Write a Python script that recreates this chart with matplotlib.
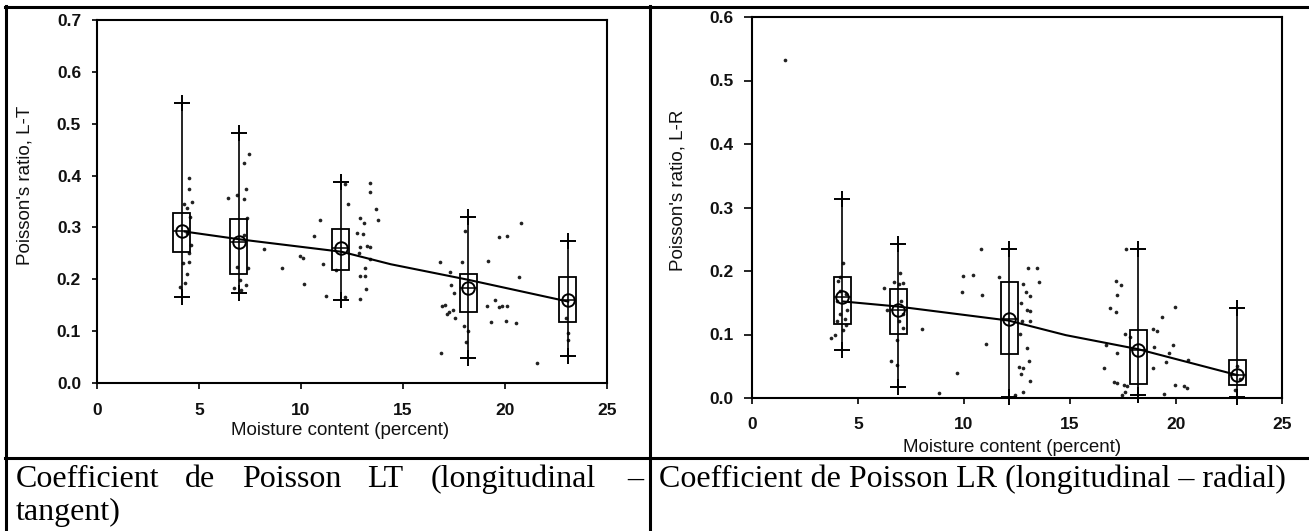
import matplotlib
matplotlib.use("Agg")
import matplotlib.pyplot as plt
from matplotlib.lines import Line2D

# ---------------- data: Poisson's ratio L-T ----------------
lt_x = [4.16, 6.94, 11.94, 18.19, 23.07]
lt_mean = [0.294, 0.271, 0.261, 0.183, 0.160]
lt_q1 = [0.253, 0.210, 0.217, 0.1375, 0.118]
lt_q3 = [0.328, 0.316, 0.297, 0.210, 0.204]
lt_lo = [0.166, 0.173, 0.161, 0.048, 0.053]
lt_hi = [0.539, 0.483, 0.388, 0.3195, 0.274]
lt_fit_x = [4.3, 7.0, 12.0, 14.4, 18.2, 23.1]
lt_fit_y = [0.292, 0.277, 0.253, 0.229, 0.199, 0.157]
lt_pts_x = [4.52, 4.50, 4.68, 4.39, 4.27, 4.57, 4.40, 4.62, 4.49, 4.52, 4.24, 4.40, 4.31, 4.08,
            7.43, 7.23, 6.40, 6.86, 7.29, 7.22, 7.35, 7.19, 7.42, 7.01, 7.30, 6.70, 7.06, 6.86,
            8.20, 9.07, 10.13, 9.94, 10.08, 10.63, 10.95, 11.07, 11.23, 11.70,
            12.31, 13.38, 13.38, 13.66, 13.77, 12.88, 13.11, 12.75, 13.05, 12.91, 13.24, 13.38,
            12.83, 13.38, 13.16, 12.88, 13.16, 13.21, 12.88, 12.17, 12.17,
            18.03, 20.78, 19.71, 20.12, 19.17, 17.91, 16.81, 20.70, 17.30, 17.35, 17.50, 19.50,
            19.10, 19.71, 19.87, 20.12, 16.90, 17.04, 17.25, 17.46, 17.14, 17.56, 17.98, 18.08,
            16.84, 19.32, 20.04, 20.56, 21.59, 18.20,
            23.07, 23.07, 23.00]
lt_pts_y = [0.396, 0.374, 0.350, 0.337, 0.345, 0.321, 0.289, 0.266, 0.250, 0.234, 0.231, 0.211, 0.192, 0.186,
            0.441, 0.425, 0.357, 0.362, 0.374, 0.355, 0.319, 0.285, 0.221, 0.199, 0.189, 0.183, 0.180, 0.224,
            0.258, 0.221, 0.191, 0.245, 0.242, 0.283, 0.314, 0.229, 0.168, 0.218,
            0.345, 0.386, 0.369, 0.336, 0.314, 0.319, 0.308, 0.290, 0.288, 0.263, 0.264, 0.263,
            0.250, 0.240, 0.221, 0.207, 0.207, 0.181, 0.162, 0.165, 0.384,
            0.294, 0.308, 0.282, 0.283, 0.235, 0.233, 0.233, 0.205, 0.214, 0.189, 0.173, 0.161,
            0.148, 0.146, 0.148, 0.148, 0.149, 0.150, 0.137, 0.140, 0.133, 0.125, 0.109, 0.080,
            0.057, 0.118, 0.120, 0.115, 0.038, 0.100,
            0.096, 0.083, 0.125]

# ---------------- data: Poisson's ratio L-R ----------------
lr_x = [4.26, 6.90, 12.14, 18.22, 22.89]
lr_mean = [0.159, 0.139, 0.124, 0.075, 0.036]
lr_q1 = [0.116, 0.101, 0.070, 0.0216, 0.020]
lr_q3 = [0.191, 0.171, 0.183, 0.107, 0.060]
lr_lo = [0.076, 0.018, 0.002, 0.004, 0.002]
lr_hi = [0.313, 0.242, 0.234, 0.235, 0.142]
lr_fit_x = [4.3, 6.9, 12.1, 14.8, 18.2, 22.9]
lr_fit_y = [0.152, 0.144, 0.122, 0.099, 0.077, 0.036]
lr_pts_x = [1.56,
            4.31, 4.07, 4.15, 4.43, 3.99, 4.47, 4.15, 4.39, 3.99, 4.43, 4.31, 3.92, 3.71, 4.15,
            6.98, 6.23, 6.70, 6.95, 7.14, 6.35, 7.03, 7.11, 6.95, 7.11, 6.54, 6.82, 6.82, 8.00,
            8.84, 9.69, 10.79, 9.97, 10.44, 9.89, 10.87, 11.04, 11.64,
            13.03, 13.43, 13.55, 12.77, 12.93, 13.12, 12.68, 12.99, 13.12, 12.72, 13.12, 12.62,
            12.99, 13.05, 12.58, 12.80, 12.70, 13.12, 12.76, 12.42,
            17.64, 17.15, 17.39, 17.20, 16.89, 17.15, 16.70, 17.20, 16.60, 17.60, 17.83, 17.08,
            17.24, 17.53, 17.67, 17.60, 17.43, 18.93, 19.12, 18.95, 18.90, 19.36, 19.95, 19.84,
            19.68, 19.52, 19.95, 20.38, 20.50, 19.43, 20.58,
            22.90, 23.00, 22.80]
lr_pts_y = [0.532,
            0.213, 0.185, 0.169, 0.164, 0.153, 0.138, 0.133, 0.125, 0.122, 0.115, 0.107, 0.099, 0.094, 0.190,
            0.197, 0.174, 0.182, 0.180, 0.181, 0.138, 0.153, 0.133, 0.122, 0.111, 0.059, 0.052, 0.091, 0.108,
            0.0085, 0.039, 0.234, 0.192, 0.194, 0.167, 0.162, 0.085, 0.190,
            0.204, 0.204, 0.183, 0.180, 0.167, 0.160, 0.149, 0.138, 0.137, 0.122, 0.121, 0.101,
            0.079, 0.058, 0.049, 0.048, 0.038, 0.027, 0.009, 0.004,
            0.235, 0.184, 0.178, 0.162, 0.141, 0.136, 0.083, 0.071, 0.048, 0.101, 0.096, 0.025,
            0.024, 0.020, 0.019, 0.010, 0.004, 0.109, 0.105, 0.081, 0.048, 0.128, 0.144, 0.083,
            0.071, 0.057, 0.020, 0.019, 0.016, 0.007, 0.060,
            0.050, 0.030, 0.012]

x_ticks = [0, 5, 10, 15, 20, 25]
lt_yticks = [0.0, 0.1, 0.2, 0.3, 0.4, 0.5, 0.6, 0.7]
lr_yticks = [0.0, 0.1, 0.2, 0.3, 0.4, 0.5, 0.6]
lt_ylabel = "Poisson's ratio, L-T"
lr_ylabel = "Poisson's ratio, L-R"
xlabel = "Moisture content (percent)"
cap_lt = ["Coefficient", "de", "Poisson", "LT", "(longitudinal", "\u2013"]
cap_lt2 = "tangent)"
cap_lr = "Coefficient de Poisson LR (longitudinal \u2013 radial)"

W, H = 1309, 531
DPI = 100
fig = plt.figure(figsize=(W / DPI, H / DPI), dpi=DPI)
fig.patch.set_facecolor("white")


def rect(x0, x1, ytop, ybot):
    return [x0 / W, 1 - ybot / H, (x1 - x0) / W, (ybot - ytop) / H]


def draw_panel(ax, gx, mean, q1, q3, lo, hi, fx, fy, px, py, ymax, yticks, ylabel,
               boxw, ylab_xy, xlab_xy, ypad, ylen, xpad):
    ax.scatter(px, py, s=7, color="#222222", linewidths=0, zorder=2, clip_on=False)
    ax.vlines(gx, lo, hi, color="black", lw=1.2, zorder=3, clip_on=False)
    ax.plot(gx, lo, ls="none", marker="+", ms=12, mew=1.4, color="black", zorder=3, clip_on=False)
    ax.plot(gx, hi, ls="none", marker="+", ms=12, mew=1.4, color="black", zorder=3, clip_on=False)
    heights = [b - a for a, b in zip(q1, q3)]
    ax.bar(gx, heights, bottom=q1, width=boxw, fill=False, edgecolor="black",
           linewidth=1.3, zorder=4, clip_on=False)
    ax.hlines(mean, [g - boxw / 2 for g in gx], [g + boxw / 2 for g in gx],
              color="black", lw=1.1, zorder=4)
    ax.plot(gx, mean, ls="none", marker="o", ms=9, mfc="none", mec="black", mew=1.4, zorder=5)
    ax.plot(fx, fy, color="black", lw=1.5, zorder=4)

    ax.set_xlim(0, 25)
    ax.set_ylim(0, ymax)
    ax.set_xticks(x_ticks)
    ax.set_xticklabels([str(t) for t in x_ticks])
    ax.set_yticks(yticks)
    ax.set_yticklabels([f"{t:.1f}" for t in yticks])
    for lab in ax.get_xticklabels() + ax.get_yticklabels():
        lab.set_fontfamily("Liberation Sans")
        lab.set_fontweight("bold")
        lab.set_fontsize(12.5)
        lab.set_color("#111111")
    ax.tick_params(axis="y", direction="out", length=ylen, width=1.2, pad=ypad)
    ax.tick_params(axis="x", direction="out", length=4.5, width=1.2, pad=xpad)
    for sp in ax.spines.values():
        sp.set_linewidth(1.5)
    ax.set_ylabel(ylabel, fontfamily="Liberation Sans", fontsize=13.5, color="#111111",
                  va="center")
    ax.set_xlabel(xlabel, fontfamily="Liberation Sans", fontsize=13.5, color="#111111",
                  va="center")
    ax.yaxis.set_label_coords(*ylab_xy)
    ax.xaxis.set_label_coords(*xlab_xy)


ax1 = fig.add_axes(rect(97, 607, 20, 383))
draw_panel(ax1, lt_x, lt_mean, lt_q1, lt_q3, lt_lo, lt_hi, lt_fit_x, lt_fit_y,
           lt_pts_x, lt_pts_y, 0.7, lt_yticks, lt_ylabel, 0.83,
           (-0.141, 0.545), (0.476, -0.132), 8, 3.5, 10)

ax2 = fig.add_axes(rect(752, 1282, 17, 398))
draw_panel(ax2, lr_x, lr_mean, lr_q1, lr_q3, lr_lo, lr_hi, lr_fit_x, lr_fit_y,
           lr_pts_x, lr_pts_y, 0.6, lr_yticks, lr_ylabel, 0.79,
           (-0.14, 0.545), (0.49, -0.129), 7, 6, 9.5)

# ---------------- table frame ----------------
lw_tab = 2.2
def fline(x0, y0, x1, y1):
    fig.add_artist(Line2D([x0 / W, x1 / W], [1 - y0 / H, 1 - y1 / H],
                          color="black", lw=lw_tab, transform=fig.transFigure))

fline(5, 7, W, 7)
fline(6, 6, 6, H)
fline(650, 6, 650, H)
fline(5, 458, W, 458)

# ---------------- captions ----------------
cap_font = dict(fontfamily="Liberation Serif", fontsize=23, color="black", va="baseline")
cap_xpos = [16, 185, 242, 367, 431, 627]
for word, xp in zip(cap_lt, cap_xpos):
    fig.text(xp / W, 1 - 487 / H, word, ha="left", **cap_font)
fig.text(16 / W, 1 - 520 / H, cap_lt2, ha="left", **cap_font)
fig.text(659 / W, 1 - 487 / H, cap_lr, ha="left", **cap_font)

fig.savefig("out.png", dpi=DPI, facecolor="white")
